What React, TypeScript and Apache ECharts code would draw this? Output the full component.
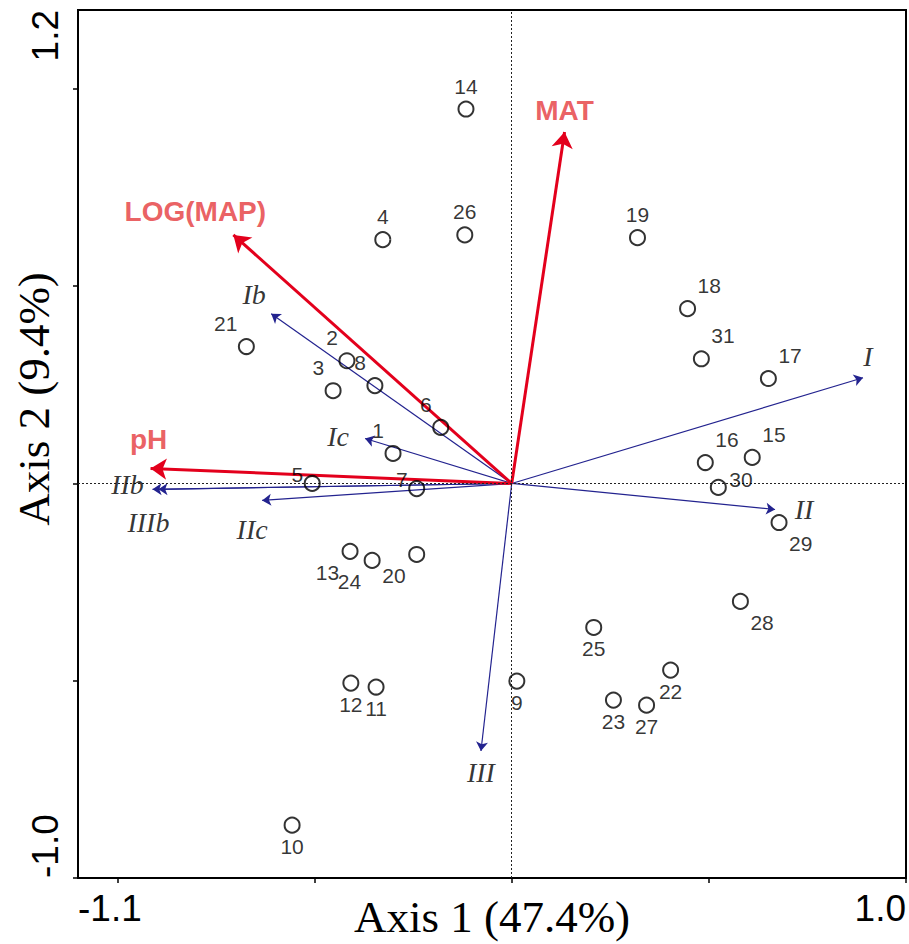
import { useEffect, useRef } from 'react';
import * as echarts from 'echarts';

// ---- data ----
const siteIds = ['1','2','3','4','5','6','7','8','9','10','11','12','13','14','15','16','17','18','19','20','21','22','23','24','25','26','27','28','29','30','31'];
const siteX = [-0.301,-0.418,-0.453,-0.327,-0.506,-0.180,-0.241,-0.347,0.013,-0.557,-0.344,-0.408,-0.410,-0.116,0.610,0.491,0.651,0.446,0.319,-0.241,-0.673,0.403,0.258,-0.354,0.208,-0.119,0.342,0.580,0.678,0.524,0.481];
const siteY = [0.076,0.311,0.235,0.618,0.000,0.142,-0.013,0.248,-0.501,-0.866,-0.516,-0.506,-0.172,0.949,0.066,0.053,0.266,0.443,0.623,-0.180,0.347,-0.473,-0.549,-0.195,-0.365,0.630,-0.562,-0.299,-0.099,-0.010,0.316];

const envNames = ['MAT','LOG(MAP)','pH'];
const envX = [0.134,-0.706,-0.916];
const envY = [0.891,0.630,0.038];

const groupNames = ['I','II','III','Ib','Ic','IIb','IIIb','IIc'];
const groupX = [0.891,0.668,-0.078,-0.610,-0.372,-0.911,-0.896,-0.633];
const groupY = [0.268,-0.066,-0.678,0.430,0.114,-0.015,-0.015,-0.043];

const xTickValues = [-1.0,-0.5,0,0.5,1.0];
const yTickValues = [-1.0,-0.5,0,0.5,1.0];
const xLabelValues = [-1.1,1.0];
const yLabelValues = [-1.0,1.2];

// ---- label placement (style) ----
const sitePlace = ['tl','tl','tl','t','l','tl','l','tl','b','b','b','b','bl','t','tr','tr','tr','tr','t','bl','tl','b','b','bl','b','t','b','br','br','r','tr'];
const placeDef: Record<string, [string, number, number]> = {
  tl: ['right', -9, -23],
  t: ['center', 0, -23],
  tr: ['left', 10, -23],
  b: ['center', 0, 21],
  bl: ['right', -11, 21],
  br: ['left', 10, 21],
  l: ['right', -9, -9],
  r: ['left', 11, -8],
};
const envLabelOffset: Record<string, [number, number]> = {
  'MAT': [0, -21],
  'LOG(MAP)': [-38, -23],
  'pH': [-2, -29],
};
const groupLabelOffset: Record<string, [number, number]> = {
  'I': [5, -21],
  'II': [29, 0],
  'III': [0, 22],
  'Ib': [-17, -19],
  'Ic': [-27, -2],
  'IIb': [-25, -5],
  'IIIb': [-10, 33],
  'IIc': [-10, 29],
};

const RED = '#e3001c';
const RED_TEXT = '#e5383b';
const BLUE = '#23238f';

function buildOption(): any {
  return {
    animation: false,
    backgroundColor: '#fff',
    grid: { left: 78, right: 2, top: 10, bottom: 66, show: true, borderColor: '#000', borderWidth: 2, backgroundColor: 'transparent' },
    xAxis: {
      type: 'value', min: -1.1, max: 1.0,
      splitLine: { show: false },
      axisLine: { onZero: false, lineStyle: { color: '#000', width: 2 } },
      axisTick: { customValues: xTickValues, length: 5, lineStyle: { color: '#000', width: 1.5 } },
      axisLabel: {
        customValues: xLabelValues, formatter: (v: number) => v.toFixed(1),
        color: '#000', fontFamily: 'Liberation Sans', fontSize: 37, margin: 12,
        alignMinLabel: 'left', alignMaxLabel: 'right',
      },
      name: 'Axis 1 (47.4%)', nameLocation: 'middle', nameGap: 16, nameMoveOverlap: false,
      nameTextStyle: { fontFamily: 'Liberation Serif', fontSize: 45, color: '#000' },
    },
    yAxis: {
      type: 'value', min: -1.0, max: 1.2,
      splitLine: { show: false },
      axisLine: { onZero: false, lineStyle: { color: '#000', width: 2 } },
      axisTick: { customValues: yTickValues, length: 5, lineStyle: { color: '#000', width: 1.5 } },
      axisLabel: {
        customValues: yLabelValues, formatter: (v: number) => v.toFixed(1), rotate: 90,
        color: '#000', fontFamily: 'Liberation Sans', fontSize: 37, margin: 14,
        alignMinLabel: 'left', alignMaxLabel: 'right',
      },
      name: 'Axis 2 (9.4%)', nameLocation: 'middle', nameGap: 22, nameMoveOverlap: false,
      nameTextStyle: { fontFamily: 'Liberation Serif', fontSize: 45, color: '#000', padding: [0, 0, 0, 90] },
    },
    series: [
      {
        type: 'scatter', data: [], z: 1, silent: true,
        markLine: {
          silent: true, symbol: ['none', 'none'], label: { show: false },
          lineStyle: { type: [2, 2], color: '#222', width: 1 },
          data: [{ xAxis: 0 }, { yAxis: 0 }],
        },
      },
      {
        type: 'lines', coordinateSystem: 'cartesian2d', z: 3,
        symbol: ['none', 'arrow'], symbolSize: 9,
        lineStyle: { color: BLUE, width: 1.2, opacity: 1, curveness: 0 },
        data: groupNames.map((n, i) => ({ name: n, coords: [[0, 0], [groupX[i], groupY[i]]] })),
      },
      {
        type: 'lines', coordinateSystem: 'cartesian2d', z: 4,
        symbol: ['none', 'arrow'], symbolSize: 16,
        lineStyle: { color: RED, width: 3, opacity: 1, curveness: 0 },
        data: envNames.map((n, i) => ({ name: n, coords: [[0, 0], [envX[i], envY[i]]] })),
      },
      {
        type: 'scatter', z: 5, silent: true, symbol: 'circle', symbolSize: 1,
        itemStyle: { color: 'rgba(0,0,0,0)' },
        label: { show: true, position: 'inside', formatter: '{b}', color: '#000', fontFamily: 'Liberation Serif', fontStyle: 'italic', fontSize: 28, textBorderWidth: 0 },
        data: groupNames.map((n, i) => ({ name: n, value: [groupX[i], groupY[i]], label: { offset: groupLabelOffset[n] } })),
      },
      {
        type: 'scatter', z: 5, silent: true, symbol: 'circle', symbolSize: 1,
        itemStyle: { color: 'rgba(0,0,0,0)' },
        label: { show: true, position: 'inside', formatter: '{b}', color: RED_TEXT, fontFamily: 'Liberation Sans', fontWeight: 'bold', fontSize: 28, textBorderWidth: 0 },
        data: envNames.map((n, i) => ({ name: n, value: [envX[i], envY[i]], label: { offset: envLabelOffset[n] } })),
      },
      {
        type: 'scatter', z: 6, symbol: 'circle', symbolSize: 15,
        itemStyle: { color: 'rgba(0,0,0,0)', borderColor: '#000', borderWidth: 2 },
        label: { show: true, position: 'inside', formatter: '{b}', color: '#000', fontFamily: 'Liberation Sans', fontSize: 21, textBorderWidth: 0 },
        data: siteIds.map((id, i) => {
          const p = placeDef[sitePlace[i]];
          return { name: id, value: [siteX[i], siteY[i]], label: { align: p[0], offset: [p[1], p[2]] } };
        }),
      },
    ],
  };
}

export default function App() {
  const ref = useRef<HTMLDivElement>(null);
  useEffect(() => {
    const chart = echarts.init(ref.current!, null, { renderer: 'svg' });
    chart.setOption(buildOption());
    return () => chart.dispose();
  }, []);
  return <div ref={ref} style={{ position: 'fixed', left: 0, top: 0, width: 909, height: 944, background: '#fff' }} />;
}
